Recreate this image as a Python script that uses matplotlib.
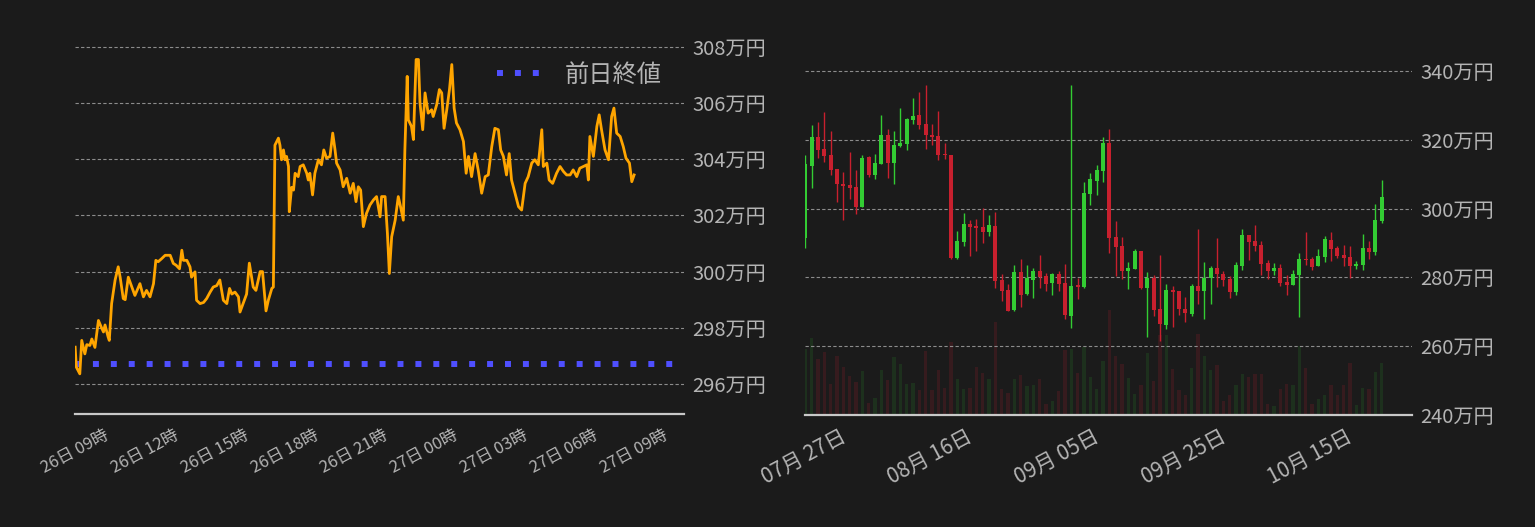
import datetime as dt
import matplotlib
matplotlib.use('Agg')
import matplotlib.pyplot as plt
import matplotlib.dates as mdates
from matplotlib.ticker import FuncFormatter, MultipleLocator

plt.rcParams['font.family'] = ['Noto Sans CJK JP', 'DejaVu Sans']

BG = '#1b1b1b'
TXT = '#b4b4b4'
GRID = '#8c8c8c'
SPINE = '#c8c8c8'

# ---- intraday line: minutes from 26日 09:00, price in 万円
intraday_min = [-95, -92, -83, -78, -70, -65, -57, -52, -44, -35, -27, -22, -18, -10, -7, -1,
                8, 16, 21, 29, 34, 42, 51, 59, 72, 81, 89, 98, 107, 113, 119, 128, 137, 150,
                158, 165, 174, 180, 184, 193, 201, 205, 214, 218, 227, 236, 244, 253, 261, 270,
                278, 287, 296, 303, 309, 317, 326, 330, 339, 347, 354, 360, 364, 371, 377, 382,
                388, 397, 403, 412, 416, 420, 429, 433, 437, 442, 446, 450, 455, 457, 463, 468,
                472, 480, 485, 493, 502, 506, 510, 517, 523, 532, 540, 546, 553, 562, 569, 575,
                579, 588, 596, 605, 614, 622, 629, 635, 641, 648, 656, 665, 674, 682, 691, 695,
                704, 710, 715, 721, 730, 738, 744, 751, 755, 761, 764, 772, 777, 784, 790, 794,
                801, 807, 815, 824, 828, 837, 844, 850, 856, 863, 870, 876, 882, 888, 897, 906,
                913, 919, 927, 936, 944, 953, 962, 970, 979, 987, 996, 1002, 1009, 1017, 1024,
                1030, 1039, 1048, 1056, 1065, 1073, 1082, 1090, 1099, 1108, 1112, 1121, 1127,
                1136, 1146, 1155, 1164, 1172, 1181, 1189, 1198, 1206, 1215, 1224, 1228, 1232,
                1241, 1250, 1256, 1262, 1271, 1280, 1288, 1294, 1301, 1310, 1318, 1325, 1334,
                1340, 1346]
intraday_price = [297.31, 296.6, 296.36, 297.55, 297.07, 297.4, 297.37, 297.6, 297.3, 298.26,
                  298.0, 297.85, 298.1, 297.67, 297.55, 298.86, 299.7, 300.17, 299.8, 299.04,
                  299.0, 299.8, 299.45, 299.15, 299.57, 299.1, 299.33, 299.1, 299.57, 300.4,
                  300.35, 300.46, 300.58, 300.58, 300.29, 300.23, 300.1, 300.76, 300.4, 300.4,
                  300.17, 299.8, 299.99, 298.98, 298.86, 298.9, 299.04, 299.27, 299.45, 299.5,
                  299.7, 298.98, 298.86, 299.4, 299.2, 299.27, 299.1, 298.56, 298.9, 299.2,
                  300.3, 299.8, 299.45, 299.33, 299.7, 300.0, 300.0, 298.6, 298.98, 299.4,
                  299.45, 304.5, 304.75, 304.5, 303.98, 304.33, 303.98, 304.1, 303.74, 302.13,
                  303.0, 302.9, 303.5, 303.38, 303.74, 303.8, 303.5, 303.26, 303.5, 302.73,
                  303.5, 303.98, 303.8, 304.33, 304.04, 304.1, 304.93, 304.33, 303.86, 303.62,
                  303.02, 303.32, 302.79, 303.14, 302.49, 303.02, 302.9, 301.6, 302.07, 302.37,
                  302.55, 302.67, 301.95, 302.67, 302.67, 301.36, 299.93, 301.24, 301.83, 302.67,
                  302.3, 301.83, 304.33, 306.95, 305.4, 305.17, 304.7, 307.55, 307.55, 306.0,
                  305.05, 306.36, 305.64, 305.76, 305.52, 305.94, 306.48, 306.36, 305.1, 305.76,
                  306.48, 307.37, 305.82, 305.29, 305.05, 304.63, 303.5, 304.1, 303.38, 304.2,
                  303.62, 302.79, 303.38, 303.44, 304.45, 305.1, 305.05, 304.33, 304.1, 303.44,
                  304.2, 303.26, 302.79, 302.31, 302.19, 303.14, 303.38, 303.86, 303.98, 303.8,
                  305.05, 303.74, 303.86, 303.26, 303.14, 303.5, 303.74, 303.56, 303.44, 303.44,
                  303.62, 303.38, 303.68, 303.74, 303.8, 303.26, 304.81, 304.1, 305.17, 305.58,
                  305.05, 304.33, 303.98, 305.52, 305.82, 304.93, 304.81, 304.45, 304.04, 303.86,
                  303.2, 303.44]
prev_close = 296.71
intraday_base = dt.datetime(2023, 10, 26, 9, 0)

# ---- daily candles (万円), first day 07/20
candle_start = dt.date(2023, 7, 20)
opens = [291.4, 312.3, 320.7, 317.2, 315.5, 311.4, 307.1, 306.8, 306.2, 300.4,
         314.9, 309.7, 312.85, 321.3, 313.1, 318.1, 318.9, 325.6, 327.1, 324.7,
         321.5, 321.0, 315.8, 315.7, 285.6, 290.2, 295.5, 294.9, 294.6, 293.1,
         294.9, 279.2, 276.3, 270.5, 281.5, 275.2, 279.2, 281.8, 280.4, 278.4,
         281.0, 278.4, 268.8, 277.8, 277.1, 304.2, 307.9, 310.8, 319.2, 291.7,
         289.1, 281.8, 282.4, 287.6, 276.9, 279.8, 270.8, 266.2, 276.3, 276.0,
         270.8, 269.4, 277.5, 276.0, 279.8, 282.7, 281.0, 279.5, 275.7, 283.3,
         292.3, 290.5, 289.4, 284.2, 281.8, 282.7, 278.6, 277.8, 280.7, 285.3,
         285.3, 283.3, 285.9, 290.8, 288.5, 286.5, 285.9, 283.3, 283.6, 288.5,
         287.3, 296.3]
highs = [315.5, 324.2, 325.3, 328.2, 322.4, 311.4, 310.5, 316.3, 311.1, 315.7,
         315.2, 316.0, 327.1, 323.0, 322.4, 329.1, 326.2, 332.0, 334.0, 336.0,
         324.7, 328.5, 319.2, 315.7, 293.4, 298.6, 296.6, 296.9, 300.1, 298.1,
         298.9, 281.0, 278.1, 283.6, 285.3, 283.6, 282.7, 286.5, 281.3, 281.3,
         281.8, 283.9, 336.0, 279.7, 307.6, 310.2, 312.6, 320.7, 323.0, 296.3,
         291.7, 284.4, 288.2, 287.6, 281.5, 280.7, 286.5, 278.1, 277.5, 276.0,
         274.3, 278.1, 294.0, 284.4, 283.3, 291.4, 281.8, 280.4, 284.4, 294.0,
         292.3, 295.2, 290.5, 285.0, 284.2, 283.9, 280.7, 282.1, 287.1, 293.1,
         285.9, 288.2, 292.0, 293.1, 289.1, 289.4, 289.1, 284.7, 292.6, 290.5,
         301.3, 308.2]
lows = [288.5, 305.9, 314.6, 313.4, 309.7, 301.8, 296.6, 302.7, 298.4, 300.4,
        309.1, 308.5, 312.85, 308.8, 307.1, 317.9, 316.9, 324.7, 323.0, 317.2,
        318.4, 314.0, 314.3, 285.3, 285.3, 289.1, 286.2, 287.6, 290.0, 292.0,
        276.9, 273.1, 270.2, 270.2, 271.4, 275.0, 274.0, 276.9, 276.0, 274.9,
        276.0, 268.0, 265.4, 273.7, 276.9, 301.0, 303.9, 307.6, 287.1, 280.4,
        279.5, 276.6, 282.4, 276.6, 262.7, 268.8, 261.5, 265.0, 265.6, 269.1,
        267.1, 268.8, 272.3, 267.9, 272.3, 277.2, 277.5, 274.0, 274.9, 282.1,
        285.0, 287.6, 280.7, 279.5, 280.7, 277.5, 274.9, 277.8, 268.5, 283.6,
        282.1, 283.3, 284.4, 284.7, 285.6, 283.3, 279.8, 282.4, 282.1, 285.3,
        286.5, 295.7]
closes = [312.9, 320.7, 316.9, 315.2, 311.1, 307.1, 306.5, 305.9, 300.4, 314.6,
          309.7, 313.1, 321.3, 313.1, 318.4, 319.2, 325.9, 326.8, 324.4, 321.5,
          320.7, 315.5, 315.6, 285.6, 290.5, 295.5, 294.6, 294.3, 293.1, 295.2,
          278.9, 276.0, 270.2, 281.5, 274.8, 279.8, 281.8, 280.1, 278.1, 281.0,
          278.1, 269.1, 277.5, 277.2, 304.4, 308.5, 311.1, 319.2, 291.4, 288.8,
          281.8, 282.7, 287.6, 276.9, 279.8, 270.5, 266.5, 276.3, 275.7, 270.8,
          269.7, 277.5, 276.0, 279.8, 282.7, 281.0, 279.2, 275.7, 283.6, 292.3,
          290.2, 289.1, 283.9, 281.8, 282.7, 278.4, 277.8, 281.0, 285.3, 285.0,
          283.0, 286.2, 291.1, 288.2, 286.2, 285.6, 283.3, 283.9, 288.5, 287.3,
          296.6, 303.3]
volumes = [65.7, 77.3, 56.3, 62.7, 30.7, 58.7, 48.3, 39.3, 32.7, 43.7,
           12.3, 16.7, 44.7, 34.7, 57.7, 50.7, 30.7, 31.7, 24.7, 63.7,
           24.7, 44.7, 26.7, 72.7, 35.7, 25.7, 26.7, 47.7, 41.7, 35.7,
           92.7, 25.7, 21.7, 35.7, 39.7, 28.7, 29.7, 35.7, 10.7, 13.7,
           23.7, 64.7, 65.7, 41.7, 67.7, 37.7, 25.7, 53.7, 104.7, 58.7,
           50.7, 36.7, 20.7, 29.7, 61.7, 33.7, 80.0, 79.7, 45.7, 24.7,
           19.7, 46.7, 80.7, 58.7, 44.7, 49.7, 13.7, 19.7, 29.7, 40.7,
           37.7, 40.7, 40.7, 10.7, 8.7, 25.7, 30.7, 29.7, 68.7, 46.7,
           10.7, 15.7, 19.7, 29.7, 19.7, 29.7, 51.7, 9.7, 26.7, 25.7,
           42.7, 51.7]
date_ticks = ['2023-07-27', '2023-08-16', '2023-09-05', '2023-09-25', '2023-10-15']

UP = '#33cc33'
DOWN = '#c8202e'


def man_fmt(v, pos):
    return '%d万円' % round(v)


def style_axis(ax):
    ax.set_facecolor('none')
    for s in ['top', 'left', 'right']:
        ax.spines[s].set_visible(False)
    ax.spines['bottom'].set_color(SPINE)
    ax.spines['bottom'].set_linewidth(1.6)
    ax.yaxis.tick_right()
    ax.tick_params(axis='y', length=0, pad=6, labelsize=14.5, labelcolor=TXT)
    ax.tick_params(axis='x', length=0, labelcolor=TXT)
    ax.yaxis.grid(True, linestyle=(0, (3, 2)), color=GRID, linewidth=0.8)
    ax.xaxis.grid(False)
    ax.yaxis.set_major_formatter(FuncFormatter(man_fmt))


fig = plt.figure(figsize=(15.35, 5.27), dpi=100, facecolor=BG)

# ---------------- left: intraday
axl = fig.add_axes([75 / 1535, 113 / 527, 609 / 1535, 384 / 527])
style_axis(axl)
t = [intraday_base + dt.timedelta(minutes=m) for m in intraday_min]
axl.plot(t, intraday_price, color='#ffa500', linewidth=2.0, zorder=3)
axl.axhline(prev_close, color='#4f4fff', linewidth=4.3, linestyle=(0, (1, 2)),
            label='前日終値', zorder=2)
axl.set_xlim(intraday_base - dt.timedelta(minutes=95.4),
             intraday_base + dt.timedelta(minutes=1474.6))
axl.set_ylim(294.93, 308.6)
axl.yaxis.set_major_locator(MultipleLocator(2))
axl.xaxis.set_major_locator(mdates.HourLocator(byhour=range(0, 24, 3)))
axl.xaxis.set_major_formatter(mdates.DateFormatter('%d日 %H時'))
axl.tick_params(axis='x', labelsize=12, pad=9)
for lab in axl.get_xticklabels():
    lab.set_rotation(28)
    lab.set_ha('right')
leg = axl.legend(loc='upper right', bbox_to_anchor=(1.0, 0.975), frameon=False,
                 fontsize=17.5, labelcolor=TXT, handlelength=2.0)

# ---------------- right: daily candles + volume
rect = [805 / 1535, 112 / 527, 607 / 1535, 385 / 527]
axv = fig.add_axes(rect)
axv.set_facecolor('none')
axv.axis('off')
axr = fig.add_axes(rect, sharex=axv)
style_axis(axr)

days = [mdates.date2num(candle_start + dt.timedelta(days=i)) for i in range(len(opens))]
cols = [UP if c >= o else DOWN for o, c in zip(opens, closes)]
vcols = ['#32cd32' if c >= o else '#c8202e' for o, c in zip(opens, closes)]
valphas = [0.12 if c >= o else 0.16 for o, c in zip(opens, closes)]

for d, v, vc, va in zip(days, volumes, vcols, valphas):
    axv.bar(d, v, width=0.5, color=vc, alpha=va, linewidth=0)
axv.set_ylim(0, 385)

axr.vlines(days, lows, highs, colors=cols, linewidth=1.0, zorder=3)
bottoms = [min(o, c) for o, c in zip(opens, closes)]
heights = [max(abs(c - o), 0.3) for o, c in zip(opens, closes)]
axr.bar(days, heights, bottom=bottoms, width=0.64, color=cols, linewidth=0, zorder=4)

axr.set_xlim(mdates.date2num(candle_start) - 0.05, mdates.date2num(candle_start) + 95.8)
axr.set_ylim(240, 351.9)
axr.yaxis.set_major_locator(MultipleLocator(20))
axr.set_xticks([mdates.datestr2num(s) for s in date_ticks])
axr.xaxis.set_major_formatter(mdates.DateFormatter('%m月 %d日'))
axr.tick_params(axis='x', labelsize=15, pad=8)
for lab in axr.get_xticklabels():
    lab.set_rotation(28)
    lab.set_ha('right')

fig.savefig('out.png', dpi=100, facecolor=BG)
